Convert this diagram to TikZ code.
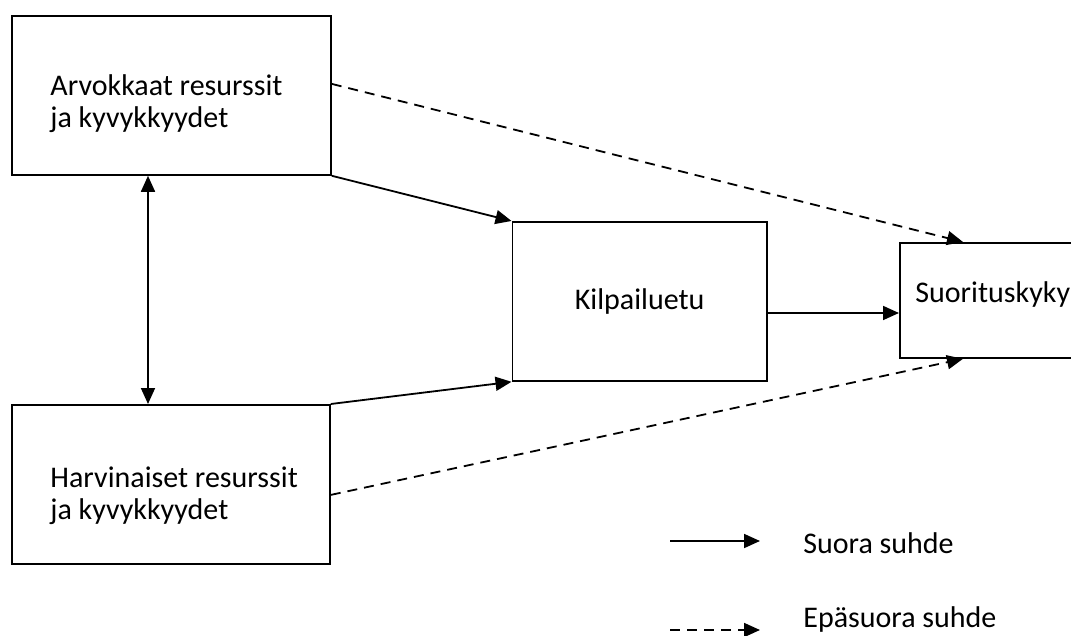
\documentclass[tikz,border=0pt]{standalone}
\usepackage{fontspec}
\setmainfont{Carlito}
\usetikzlibrary{arrows.meta}
\tikzset{
  box/.style={draw, line width=0.9pt, inner sep=0pt, anchor=north west},
  lbl/.style={font=\fontsize{15}{16}\selectfont, inner sep=0pt, align=left},
  direct/.style={->, line width=0.9pt},
  indirect/.style={->, line width=0.9pt, dash pattern=on 5pt off 3.5pt},
  >={Triangle[length=8pt, width=7pt]}
}
\begin{document}
\begin{tikzpicture}[x=0.5pt, y=-0.5pt]
  \useasboundingbox (0,0) rectangle (1071,636);
  \clip (0,0) rectangle (1071,636);
  % Boxes
  \node[box, minimum width=159.5pt, minimum height=79.5pt] (arvo) at (11,15) {};
  \node[box, minimum width=159pt, minimum height=79.5pt] (harv) at (11,404) {};
  \node[box, minimum width=127.25pt, minimum height=79.5pt,
        font=\fontsize{15}{16}\selectfont] (kilp) at (511.5,221) {Kilpailuetu};
  \node[box, minimum width=100pt, minimum height=57.5pt] (suor) at (899,242) {};
  % Box texts (base = last line)
  \node[lbl, anchor=base west] (arvotxt) at (50,128) {Arvokkaat resurssit\\ja kyvykkyydet};
  \node[lbl, anchor=base west] (harvtxt) at (50,519) {Harvinaiset resurssit\\ja kyvykkyydet};
  \node[lbl, anchor=base west] (suortxt) at (915,303) {Suorituskyky};
  % Direct relations
  \draw[<->, line width=0.9pt] ([xshift=68.5pt]arvo.south west) -- ([xshift=68.5pt]harv.north west);
  \draw[direct] (arvo.south east) -- (kilp.north west);
  \draw[direct] (harv.north east) -- (kilp.south west);
  \coordinate (ks) at (0,313);
  \draw[direct] (kilp.east |- ks) -- (suor.west |- ks);
  % Indirect relations
  \draw[indirect] ([yshift=5.75pt]arvo.east) -- ([xshift=32pt]suor.north west);
  \draw[indirect] ([yshift=-5.25pt]harv.east) -- ([xshift=32pt]suor.south west);
  % Legend
  \coordinate (sa) at (670,541);
  \coordinate (sb) at (760,541);
  \draw[direct] (sa) -- (sb);
  \node[lbl, anchor=base west] (suora) at (803,553) {Suora suhde};
  \coordinate (ia) at (670,630);
  \coordinate (ib) at (760,630);
  \draw[indirect] (ia) -- (ib);
  \node[lbl, anchor=base west] (epasuora) at (803,627) {Epäsuora suhde};
\end{tikzpicture}
\end{document}
